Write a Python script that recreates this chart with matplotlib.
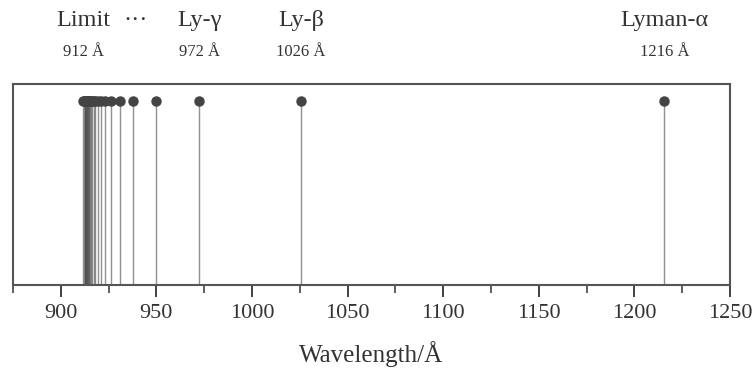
import matplotlib
matplotlib.use("Agg")
from matplotlib import pyplot as plt
from matplotlib.ticker import MultipleLocator
import matplotlib.transforms as mtransforms

plt.rcParams['font.family'] = ['Liberation Serif', 'DejaVu Serif']

# Lyman series line wavelengths (Angstrom)
lines = [1215.67, 1025.72, 972.54, 949.74, 937.80, 930.75, 926.23, 923.15,
         920.96, 919.35, 918.13, 917.18, 916.43, 915.82, 915.33, 914.92,
         914.58, 914.29, 914.04, 913.83, 913.64, 913.48, 913.34, 913.21,
         913.10, 912.99, 912.90, 912.81, 912.74, 912.67, 912.60, 912.55,
         912.49, 912.44, 912.40, 911.75]
label_x = [911.75, 939.0, 972.54, 1025.72, 1215.67]
label_names = ["Limit", "···", "Ly-γ", "Ly-β", "Lyman-α"]
label_waves = ["912 Å", "", "972 Å", "1026 Å", "1216 Å"]
xticks = [900, 950, 1000, 1050, 1100, 1150, 1200, 1250]

fig = plt.figure(figsize=(7.52, 3.79), dpi=100)
ax = fig.add_axes([13 / 752, 1 - 285 / 379, 717 / 752, 201 / 379])

height = 0.915
ax.vlines(lines, 0, height, color='#555555', alpha=0.65, lw=1.0, zorder=1)
ax.plot(lines, [height] * len(lines), 'o', color='#444444', ms=6.5, zorder=2)

ax.set_xlim(875, 1250)
ax.set_ylim(0, 1)
ax.set_yticks([])
ax.set_xticks(xticks)
ax.xaxis.set_minor_locator(MultipleLocator(25))
ax.tick_params(axis='x', which='major', direction='out', length=8.5, width=1.3,
               color='#333333', labelsize=16, pad=5, labelcolor='#333333')
ax.tick_params(axis='x', which='minor', direction='out', length=5.5, width=1.1,
               color='#333333')
for s in ax.spines.values():
    s.set_color('#555555')
    s.set_linewidth(1.5)

ax.set_xlabel("Wavelength/Å", fontsize=18, color='#333333', labelpad=13)

trans = mtransforms.blended_transform_factory(ax.transData, ax.transAxes)
for x, name, w in zip(label_x, label_names, label_waves):
    ax.text(x, 1.318, name, transform=trans, ha='center', va='center',
            fontsize=17.5, color='#333333', clip_on=False)
    if w:
        ax.text(x, 1.159, w, transform=trans, ha='center', va='center',
                fontsize=12, color='#333333', clip_on=False)

fig.savefig("out.png", dpi=100)
